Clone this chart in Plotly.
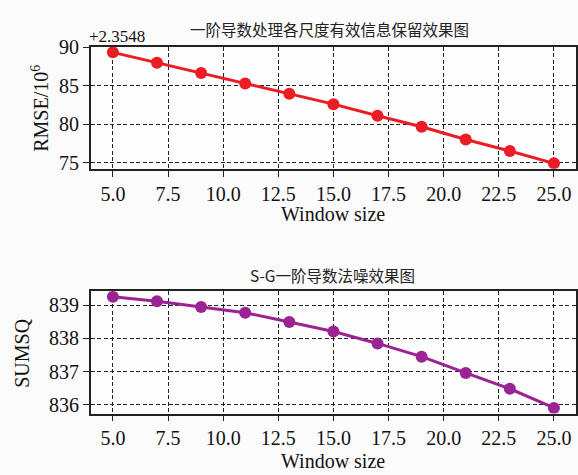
import plotly.graph_objects as go

window = [5, 7, 9, 11, 13, 15, 17, 19, 21, 23, 25]
rmse = [89.34, 88.0, 86.65, 85.3, 83.95, 82.6, 81.1, 79.65, 78.0, 76.5, 74.9]
sumsq = [839.26, 839.125, 838.95, 838.78, 838.5, 838.21, 837.85, 837.45, 836.96, 836.48, 835.9]

x_ticks = [5, 7.5, 10, 12.5, 15, 17.5, 20, 22.5, 25]
x_ticktext = ["5.0", "7.5", "10.0", "12.5", "15.0", "17.5", "20.0", "22.5", "25.0"]
rmse_ticks = [75, 80, 85, 90]
sumsq_ticks = [836, 837, 838, 839]

title1 = "一阶导数处理各尺度有效信息保留效果图"
title2 = "S-G一阶导数法噪效果图"
offset_text = "+2.3548"

W, H = 578, 475
serif = "Liberation Serif, Times New Roman, serif"
cjk = "Noto Sans CJK SC"

fig = go.Figure()
fig.add_trace(go.Scatter(x=window, y=rmse, mode="lines+markers",
                         line=dict(color="#ec1c24", width=3),
                         marker=dict(color="#ec1c24", size=12),
                         xaxis="x", yaxis="y", showlegend=False))
fig.add_trace(go.Scatter(x=window, y=sumsq, mode="lines+markers",
                         line=dict(color="#9b2393", width=3),
                         marker=dict(color="#9b2393", size=12),
                         xaxis="x2", yaxis="y2", showlegend=False))

def px_x(p):
    return p / W

def px_y(p):
    return 1 - p / H

axis_common = dict(showline=True, linecolor="#222", linewidth=1.5, mirror=True,
                   showgrid=True, gridcolor="#222", griddash="4px,2.5px", gridwidth=1.3,
                   ticks="outside", ticklen=6, tickwidth=1.3, tickcolor="#222",
                   tickfont=dict(family=serif, size=20, color="#111"),
                   zeroline=False)

xdom = [px_x(91), px_x(577)]
fig.update_layout(
    width=W, height=H,
    margin=dict(l=0, r=0, t=0, b=0),
    paper_bgcolor="#fbfbfb", plot_bgcolor="#fdfdfd",
    xaxis=dict(domain=xdom, anchor="y", range=[4, 26], tickvals=x_ticks, ticktext=x_ticktext, **axis_common),
    yaxis=dict(domain=[px_y(163), px_y(37)], anchor="x", range=[74.18, 90.06], tickvals=rmse_ticks, **axis_common),
    xaxis2=dict(domain=xdom, anchor="y2", range=[4, 26], tickvals=x_ticks, ticktext=x_ticktext, **axis_common),
    yaxis2=dict(domain=[px_y(415.7), px_y(289.3)], anchor="x2", range=[835.73, 839.43], tickvals=sumsq_ticks, **axis_common),
)

ann = [
    dict(text=title1, x=px_x(330), y=px_y(19), font=dict(family=cjk, size=15.5, color="#222")),
    dict(text=title2, x=px_x(333), y=px_y(273), font=dict(family=cjk, size=15.5, color="#222")),
    dict(text=offset_text, x=px_x(117), y=px_y(26), font=dict(family=serif, size=17, color="#111")),
    dict(text="Window size", x=px_x(334), y=px_y(210), font=dict(family=serif, size=20, color="#111")),
    dict(text="Window size", x=px_x(334), y=px_y(465), font=dict(family=serif, size=20, color="#111")),
    dict(text="RMSE/10<sup>6</sup>", x=px_x(40), y=px_y(100), textangle=-90, font=dict(family=serif, size=20, color="#111")),
    dict(text="SUMSQ", x=px_x(22), y=px_y(353), textangle=-90, font=dict(family=serif, size=20, color="#111")),
]
for a in ann:
    fig.add_annotation(xref="paper", yref="paper", showarrow=False,
                       xanchor="center", yanchor="middle", **a)

fig.write_html("out.html")
